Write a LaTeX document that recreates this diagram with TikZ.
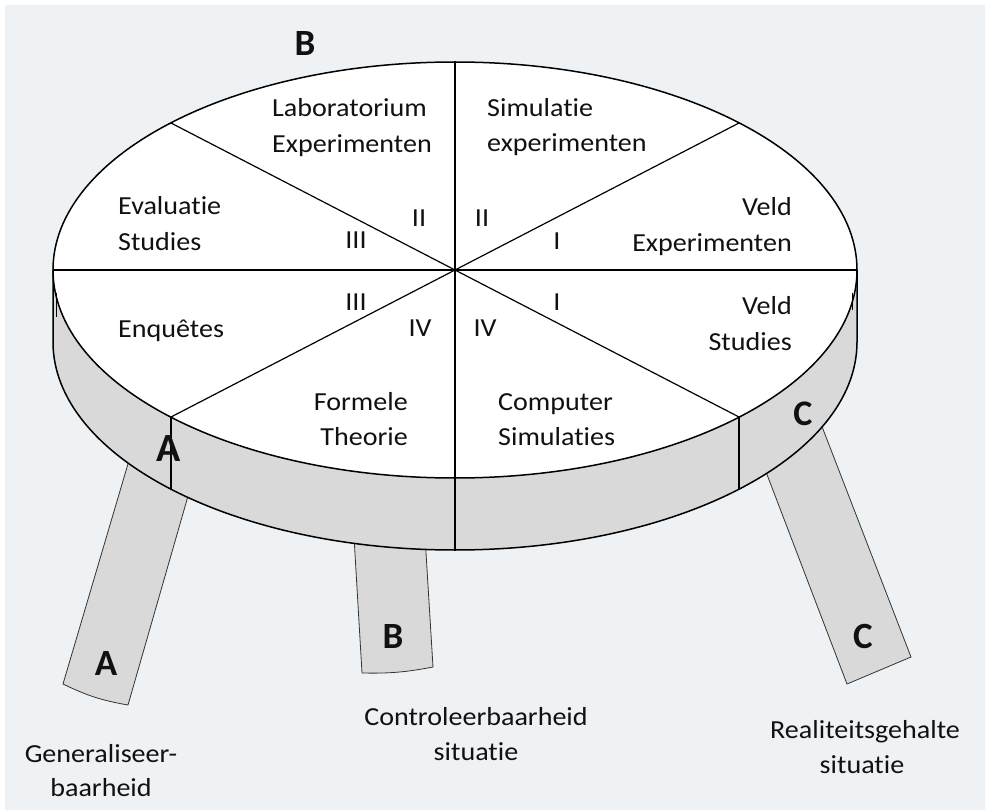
\documentclass[tikz,border=0pt]{standalone}
\usepackage{fontspec}
\setmainfont{Carlito}[FakeStretch=1.08, Ligatures={NoCommon,NoDiscretionary,NoRare}, RawFeature={-liga;-dlig;-clig}]
\newfontfamily\letterfont{Carlito}
\definecolor{bgcol}{HTML}{EFF2F4}
\definecolor{sidegray}{HTML}{D9D9D9}
\definecolor{ink}{HTML}{111111}
\begin{document}
\begin{tikzpicture}[x=1pt,y=1pt,
  lbl/.style={inner sep=0pt, text=ink, font=\fontsize{26}{31}\selectfont},
  bigletter/.style={inner sep=0pt, text=ink, anchor=base, font=\letterfont\bfseries\fontsize{37}{44}\selectfont},
  legshape/.style={fill=sidegray, draw=black!80, line width=0.8pt},
  rim/.style={draw=black, line width=1.5pt},
  spoke/.style={draw=black, line width=1.2pt}]

\useasboundingbox (0,0) rectangle (985,-810);
\fill[white] (0,0) rectangle (985,-810);
\fill[bgcol] (5,-5) rectangle (985,-810);

% legs (behind the table)
\draw[legshape] (138,-430) -- (63,-684) to[bend right=8] (128,-705) -- (207,-430) -- cycle;
\draw[legshape] (353,-520) -- (362,-673) to[bend right=6] (433,-667) -- (424,-520) -- cycle;
\draw[legshape] (750,-430) -- (847,-684) -- (911,-657) -- (804,-380) -- cycle;

% side of the table
\path[fill=sidegray] (53,-270) -- (53,-342)
  arc[start angle=180,end angle=360,x radius=402,y radius=208] -- (857,-270)
  arc[start angle=0,end angle=-180,x radius=402,y radius=208] -- cycle;
\draw[rim] (53,-270) -- (53,-342)
  arc[start angle=180,end angle=360,x radius=402,y radius=208] -- (857,-270);

% top face
\draw[rim, fill=white] (455,-270) ellipse[x radius=402, y radius=208];

% spokes
\draw[spoke] (53,-270) -- (857,-270);
\draw[spoke] (455,-62) -- (455,-550);
\draw[spoke] (171,-123) -- (739,-417);
\draw[spoke] (171,-417) -- (739,-123);
\draw[spoke] (171,-417) -- (171,-489);
\draw[spoke] (739,-417) -- (739,-489);
\draw[line width=0.6pt] (56,-293) -- (56,-317);
\draw[line width=0.6pt] (852,-293) -- (852,-310);

% top face texts
\node[lbl, anchor=base west] (lab1) at (272,-117) {Laboratorium};
\node[lbl, anchor=base west] (lab2) at (272,-153) {Experimenten};
\node[lbl, anchor=base west] (sim1) at (487,-117) {Simulatie};
\node[lbl, anchor=base west] (sim2) at (487,-152) {experimenten};
\node[lbl, anchor=base west] (eva1) at (118,-215) {Evaluatie};
\node[lbl, anchor=base west] (eva2) at (118,-251) {Studies};
\node[lbl, anchor=base east] (vex1) at (792,-216) {Veld};
\node[lbl, anchor=base east] (vex2) at (792,-252) {Experimenten};
\node[lbl, anchor=base west] (enq) at (118,-337) {Enquêtes};
\node[lbl, anchor=base east] (vst1) at (792,-315) {Veld};
\node[lbl, anchor=base east] (vst2) at (792,-350) {Studies};
\node[lbl, anchor=base east] (for1) at (408,-410) {Formele};
\node[lbl, anchor=base east] (for2) at (408,-445) {Theorie};
\node[lbl, anchor=base west] (com1) at (498,-410) {Computer};
\node[lbl, anchor=base west] (com2) at (498,-445) {Simulaties};

% quadrant numerals
\node[lbl, anchor=base] (q2a) at (419,-227) {II};
\node[lbl, anchor=base] (q3a) at (356,-249) {III};
\node[lbl, anchor=base] (q2b) at (482,-227) {II};
\node[lbl, anchor=base] (q1a) at (557,-250) {I};
\node[lbl, anchor=base] (q3b) at (356,-310) {III};
\node[lbl, anchor=base] (q4a) at (420,-336) {IV};
\node[lbl, anchor=base] (q1b) at (557,-310) {I};
\node[lbl, anchor=base] (q4b) at (485,-336) {IV};

% letters
\node[bigletter] (topB) at (305,-56) {B};
\node[bigletter, font=\letterfont\bfseries\fontsize{40}{48}\selectfont] (sideA) at (169,-461) {A};
\node[bigletter, font=\letterfont\bfseries\fontsize{36}{44}\selectfont] (sideC) at (803,-425) {C};
\node[bigletter] (legA) at (106,-675) {A};
\node[bigletter] (legB) at (393,-648) {B};
\node[bigletter] (legC) at (863,-648) {C};

% captions
\node[lbl, anchor=base] (gen1) at (101,-762) {Generaliseer-};
\node[lbl, anchor=base] (gen2) at (101,-796) {baarheid};
\node[lbl, anchor=base] (con1) at (476,-725) {Controleerbaarheid};
\node[lbl, anchor=base] (con2) at (476,-760) {situatie};
\node[lbl, anchor=base] (rea1) at (865,-738) {Realiteitsgehalte};
\node[lbl, anchor=base] (rea2) at (862,-773) {situatie};
\end{tikzpicture}
\end{document}
